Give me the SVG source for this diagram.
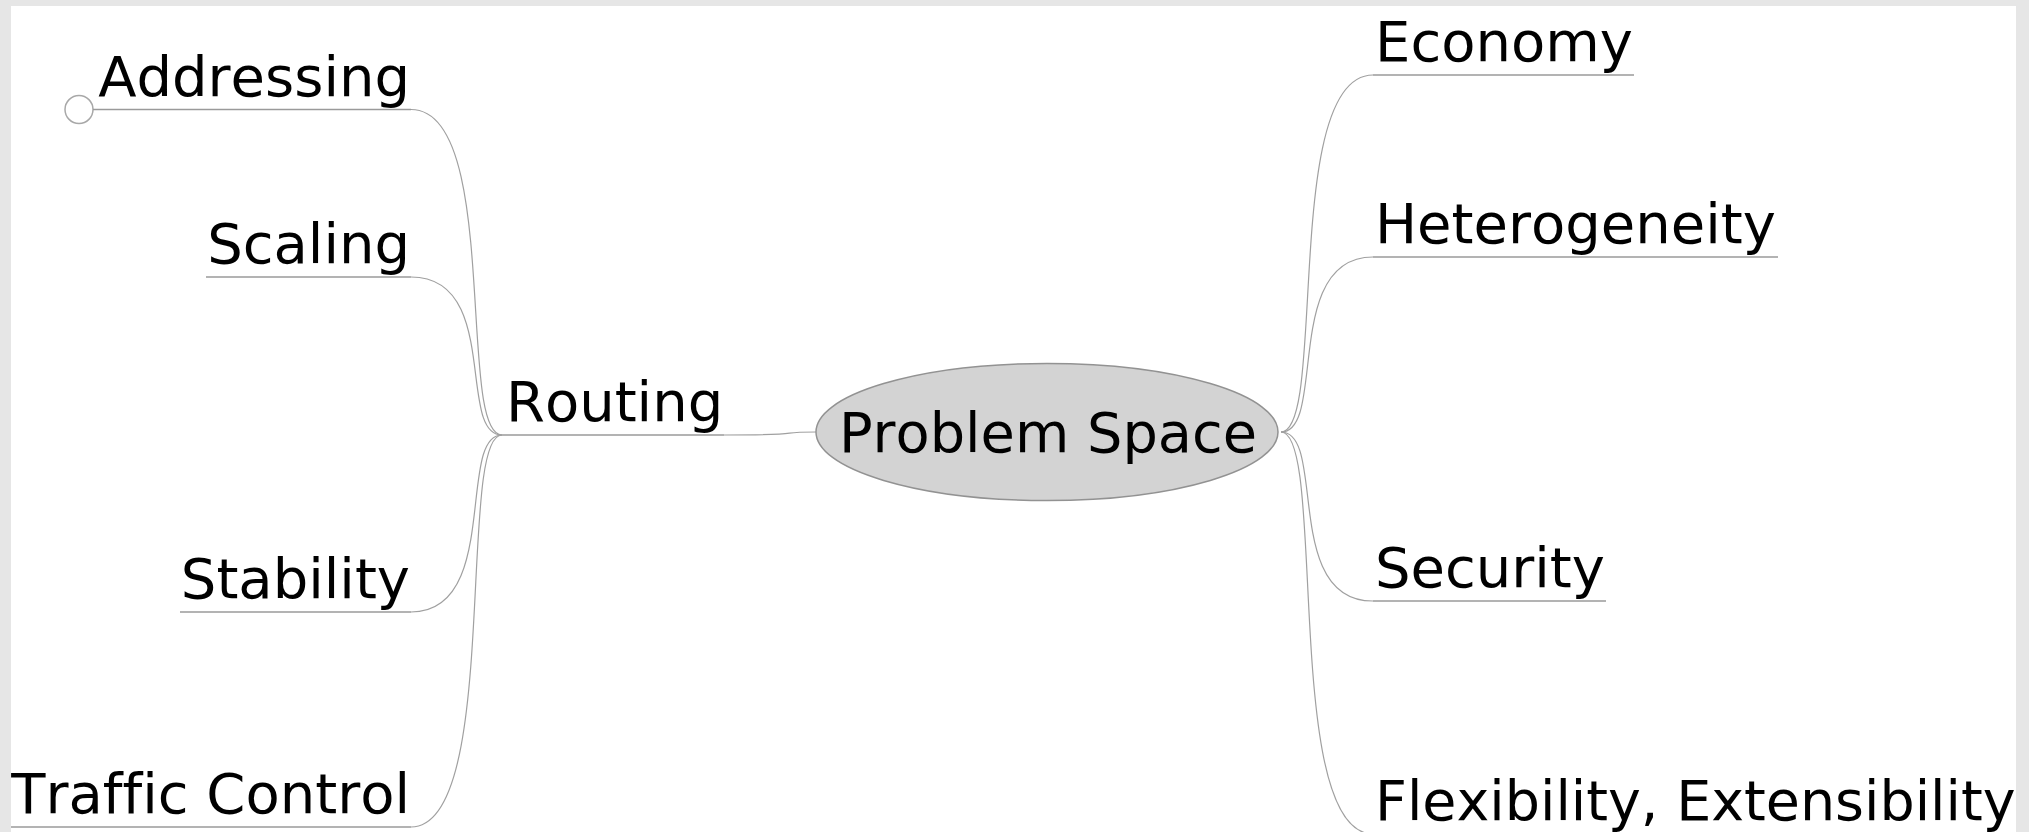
<svg xmlns="http://www.w3.org/2000/svg" width="2029" height="832" viewBox="0 0 2029 832">
<style>
.lbl{font-family:"DejaVu Sans","Noto Sans",sans-serif;font-size:56px;fill:#000;font-variant-ligatures:none;font-feature-settings:"liga" 0,"kern" 0;font-kerning:none}
.root{font-family:"DejaVu Sans","Noto Sans",sans-serif;font-size:55.8px;fill:#000;font-kerning:none}
.ul{stroke:#9a9a9a;stroke-width:1.5;fill:none}
.edge{stroke:#a0a0a0;stroke-width:1.2;fill:none}
</style>
<rect x="0" y="0" width="2029" height="832" fill="#e6e6e6"/>
<rect x="11" y="6" width="2005" height="826" fill="#ffffff"/>
<g id="connectors">
<path class="edge" d="M816,432 C770,432 815,435 724,435"/>
<path class="edge" d="M502,435 C456.5,435 501,109.5 411,109.5"/>
<path class="edge" d="M502,435 C456.5,435 501,277 411,277"/>
<path class="edge" d="M502,435 C456.5,435 501,612 411,612"/>
<path class="edge" d="M502,435 C456.5,435 501,827 411,827"/>
<path class="edge" d="M1281,432 C1327,432 1282,75 1373,75"/>
<path class="edge" d="M1281,432 C1327,432 1282,257 1373,257"/>
<path class="edge" d="M1281,432 C1327,432 1282,601 1373,601"/>
<path class="edge" d="M1281,432 C1327,432 1282,834 1373,834"/>
</g>
<g id="problem-space">
<ellipse cx="1047" cy="432" rx="231" ry="68.5" fill="#d3d3d3" stroke="#929292" stroke-width="1.5"/>
<text class="root" x="1048" y="452" text-anchor="middle">Problem Space</text>
</g>
<g id="routing">
<line class="ul" x1="502" y1="435" x2="724" y2="435"/>
<text class="lbl" x="506" y="421">Routing</text>
</g>
<g id="addressing">
<circle cx="79" cy="109.5" r="14" fill="#ffffff" stroke="#a8a8a8" stroke-width="1.5"/>
<line class="ul" x1="93" y1="109.5" x2="411" y2="109.5"/>
<text class="lbl" x="410" y="96" text-anchor="end">Addressing</text>
</g>
<g id="scaling">
<line class="ul" x1="206" y1="277" x2="411" y2="277"/>
<text class="lbl" x="410" y="263" text-anchor="end">Scaling</text>
</g>
<g id="stability">
<line class="ul" x1="180" y1="612" x2="411" y2="612"/>
<text class="lbl" x="410" y="598" text-anchor="end">Stability</text>
</g>
<g id="traffic-control">
<line class="ul" x1="11" y1="827" x2="411" y2="827"/>
<text class="lbl" x="410" y="813" text-anchor="end">Traffic Control</text>
</g>
<g id="economy">
<line class="ul" x1="1373" y1="75" x2="1634" y2="75"/>
<text class="lbl" x="1375" y="61">Economy</text>
</g>
<g id="heterogeneity">
<line class="ul" x1="1373" y1="257" x2="1778" y2="257"/>
<text class="lbl" x="1375" y="243">Heterogeneity</text>
</g>
<g id="security">
<line class="ul" x1="1373" y1="601" x2="1606" y2="601"/>
<text class="lbl" x="1375" y="587">Security</text>
</g>
<g id="flexibility-extensibility">
<line class="ul" x1="1373" y1="834" x2="2016" y2="834"/>
<text class="lbl" x="1375" y="820" style="font-size:55.5px">Flexibility, Extensibility</text>
</g>
<rect x="2016" y="0" width="13" height="832" fill="#e6e6e6"/>
</svg>
